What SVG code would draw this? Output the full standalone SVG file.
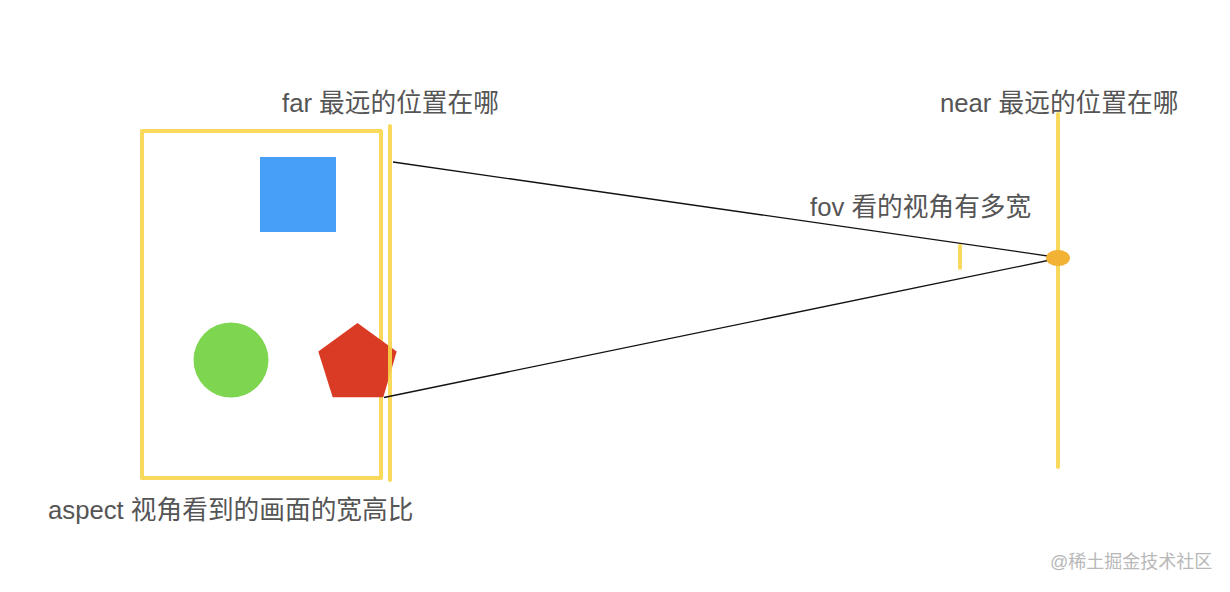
<svg xmlns="http://www.w3.org/2000/svg" width="1230" height="592" viewBox="0 0 1230 592">
<style>
.lbl{font-family:"Liberation Sans","Noto Sans CJK SC",sans-serif;font-size:25.7px;fill:#555555}
.wm{font-family:"Liberation Sans","Noto Sans CJK SC",sans-serif;font-size:18px;fill:#b8b8b8}
.crayon{fill:none;stroke:#F7D54A;stroke-width:4;stroke-linecap:round;stroke-linejoin:round;opacity:0.9}
.ray{fill:none;stroke:#111111;stroke-width:1.3}
</style>
<rect width="1230" height="592" fill="#ffffff"/>
<g id="far-frame">
<rect class="crayon" x="142" y="131" width="239" height="347"/>
</g>
<g id="square"><rect x="260" y="157" width="76" height="75" fill="#479FF8"/></g>
<g id="circle"><circle cx="231" cy="360" r="37.5" fill="#7ED550"/></g>
<g id="pentagon"><polygon points="357.5,323 396.7,351.5 383.3,397.3 332.7,397.3 318.3,351.5" fill="#D93B25"/></g>
<g id="far-plane"><line class="crayon" x1="390" y1="126" x2="390" y2="480"/></g>
<g id="near-plane"><line class="crayon" x1="1058" y1="114" x2="1058" y2="467"/></g>
<g id="fov-tick"><line class="crayon" x1="960" y1="246" x2="960" y2="268"/></g>
<g id="connectors">
<line class="ray" x1="393" y1="162" x2="1055" y2="257"/>
<line class="ray" x1="384" y1="397.5" x2="1055" y2="259"/>
</g>
<g id="camera"><ellipse cx="1058" cy="258" rx="12" ry="8" fill="#F2B233"/></g>
<g id="labels">
<text class="lbl" x="282" y="112">far 最远的位置在哪</text>
<text class="lbl" x="940" y="112">near 最远的位置在哪</text>
<text class="lbl" x="810" y="216">fov 看的视角有多宽</text>
<text class="lbl" x="48" y="519">aspect 视角看到的画面的宽高比</text>
<text class="wm" x="1050" y="568">@稀土掘金技术社区</text>
</g>
</svg>
